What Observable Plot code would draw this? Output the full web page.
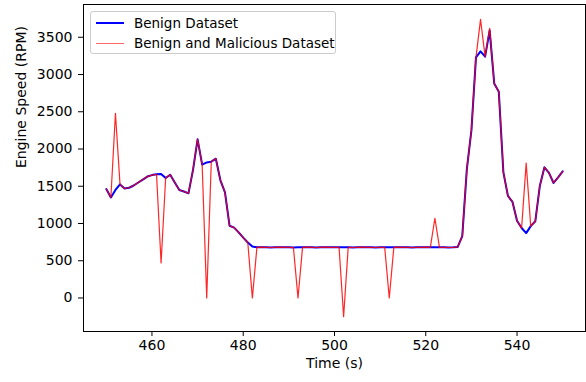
<!DOCTYPE html>
<html>
<head>
<meta charset="utf-8">
<script src="https://cdn.jsdelivr.net/npm/d3@7"></script>
<script src="https://cdn.jsdelivr.net/npm/@observablehq/plot@0.6"></script>
<style>
  body { margin: 0; background: #fff; font-family: "DejaVu Sans", sans-serif; }
  #wrap { position: relative; width: 586px; height: 382px; }
  .legend { position: absolute; left: 90px; top: 11px; width: 246px; height: 43px; box-sizing: border-box;
            border: 1px solid #cccccc; border-radius: 3px; background: rgba(255,255,255,0.85);
            font-size: 13.5px; color: #000; }
  .row { position: absolute; left: 0; height: 18px; width: 100%; }
  .row .sw { position: absolute; left: 5px; width: 28px; top: 8px; }
  .row .lab { position: absolute; left: 43px; top: 0; line-height: 18px; white-space: nowrap; }
</style>
</head>
<body>
<div id="wrap">
  <div id="chart"></div>
  <div class="legend">
    <div class="row" style="top:2px"><div class="sw" style="border-top:2px solid #0000ff"></div><div class="lab">Benign Dataset</div></div>
    <div class="row" style="top:22px"><div class="sw" style="border-top:1px solid rgba(255,0,0,0.6);top:9px"></div><div class="lab">Benign and Malicious Dataset</div></div>
  </div>
</div>
<script>
const time = [450,451,452,453,454,455,456,457,458,459,460,461,462,463,464,465,466,467,468,469,
  470,471,472,473,474,475,476,477,478,479,480,481,482,483,484,485,486,487,488,489,
  490,491,492,493,494,495,496,497,498,499,500,501,502,503,504,505,506,507,508,509,
  510,511,512,513,514,515,516,517,518,519,520,521,522,523,524,525,526,527,528,529,
  530,531,532,533,534,535,536,537,538,539,540,541,542,543,544,545,546,547,548,549,550];

const benign = [1463,1350,1450,1525,1470,1480,1510,1550,1590,1630,1650,1660,1665,1610,1655,1550,1450,1430,1405,1720,
  2130,1790,1820,1830,1870,1580,1418,970,945,880,810,745,690,680,682,680,678,680,682,680,
  680,678,680,680,682,680,678,680,682,680,680,680,680,680,678,680,682,680,680,678,
  680,680,680,680,682,680,680,678,680,680,682,680,680,680,680,678,680,685,830,1730,
  2250,3230,3310,3240,3590,2880,2770,1690,1370,1290,1036,940,871,965,1030,1507,1754,1680,1544,1620,1700];

// Injected (malicious) samples that differ from the benign trace
const attackTimes  = [452, 462, 472, 482, 492, 502, 512, 522, 532, 534, 542];
const attackValues = [2480, 470, 0, 0, 0, -250, 0, 1070, 3740, 3620, 1810];

const xTicks = [460, 480, 500, 520, 540];
const yTicks = [0, 500, 1000, 1500, 2000, 2500, 3000, 3500];
const xLabel = "Time (s)";
const yLabel = "Engine Speed (RPM)";

const benignData = time.map((t, i) => ({t, v: benign[i]}));
const attackMap = new Map(attackTimes.map((t, i) => [t, attackValues[i]]));
const mixedData = time.map((t, i) => ({t, v: attackMap.has(t) ? attackMap.get(t) : benign[i]}));

const chart = Plot.plot({
  width: 586,
  height: 382,
  marginLeft: 83,
  marginRight: 1,
  marginTop: 4,
  marginBottom: 51,
  style: { fontSize: "14px", fontFamily: "DejaVu Sans, sans-serif", color: "#000", background: "#fff" },
  x: { domain: [445, 555] },
  y: { domain: [-450, 3940] },
  marks: [
    Plot.line(benignData, { x: "t", y: "v", stroke: "#0000ff", strokeWidth: 2 }),
    Plot.line(mixedData, { x: "t", y: "v", stroke: "#ff0000", strokeWidth: 1.2, strokeOpacity: 0.85 }),
    Plot.frame({ stroke: "#000", strokeWidth: 1 }),
    Plot.axisX({ ticks: xTicks, tickSize: 5, tickPadding: 4, label: null, fontSize: 14 }),
    Plot.axisY({ ticks: yTicks, tickSize: 5, tickPadding: 6, label: null, fontSize: 14, tickFormat: d => String(d) }),
    Plot.text([xLabel], { frameAnchor: "bottom", lineAnchor: "middle", dy: 32, text: d => d, fontSize: 14 }),
    Plot.text([yLabel], { frameAnchor: "left", dx: -62, rotate: -90, text: d => d, fontSize: 14 })
  ]
});
document.getElementById("chart").appendChild(chart);
</script>
</body>
</html>
